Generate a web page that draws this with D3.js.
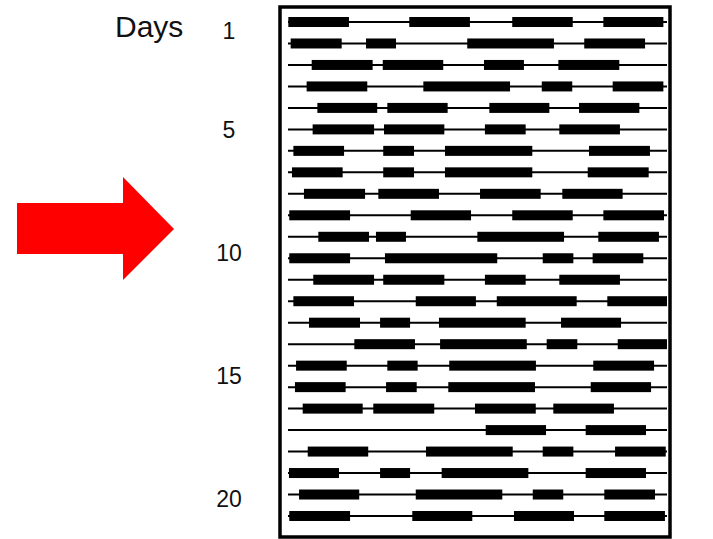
<!DOCTYPE html>
<html>
<head>
<meta charset="utf-8">
<script src="https://cdn.jsdelivr.net/npm/d3@7"></script>
<style>
  body { margin: 0; background: #fff; }
  text { font-family: "Liberation Sans", Arial, sans-serif; }
</style>
</head>
<body>
<div id="chart"></div>
<script>
// activity bouts per row, start/end in hours (0-24)
var bouts = [
  [[0.02, 3.86], [7.68, 11.52], [14.20, 18.03], [19.97, 23.77]],
  [[0.17, 3.40], [4.94, 6.84], [11.35, 16.84], [18.76, 22.61]],
  [[1.50, 5.36], [6.00, 9.83], [12.41, 14.94], [17.12, 20.98]],
  [[1.18, 5.02], [8.57, 14.06], [16.07, 18.00], [20.56, 23.77]],
  [[1.86, 5.65], [6.29, 10.11], [12.75, 16.55], [18.43, 22.25]],
  [[1.56, 5.45], [6.08, 9.90], [12.47, 15.05], [17.18, 21.02]],
  [[0.34, 3.55], [6.03, 7.98], [9.94, 15.47], [19.06, 22.92]],
  [[0.25, 3.46], [6.03, 7.98], [9.94, 15.47], [18.98, 22.84]],
  [[1.01, 4.88], [5.72, 9.56], [12.16, 16.00], [17.37, 21.19]],
  [[0.08, 3.93], [7.77, 11.59], [14.20, 18.03], [19.97, 23.81]],
  [[1.92, 5.13], [5.57, 7.47], [11.99, 17.48], [19.65, 23.49]],
  [[0.08, 3.93], [6.14, 13.25], [16.13, 18.07], [19.29, 22.50]],
  [[1.60, 5.45], [6.03, 9.90], [12.47, 15.05], [17.18, 21.02]],
  [[0.34, 4.18], [8.09, 11.90], [13.22, 18.28], [20.22, 24.00]],
  [[1.33, 4.56], [5.83, 7.73], [9.56, 15.05], [17.29, 21.09]],
  [[4.20, 8.04], [9.63, 15.12], [16.38, 18.32], [20.88, 24.00]],
  [[0.51, 3.72], [6.29, 8.21], [10.21, 15.70], [19.33, 23.18]],
  [[0.44, 3.65], [6.21, 8.15], [10.15, 15.64], [19.17, 22.99]],
  [[0.93, 4.73], [5.40, 9.26], [11.84, 15.69], [16.80, 20.64]],
  [[12.52, 16.34], [18.85, 22.67]],
  [[1.25, 5.08], [8.74, 14.23], [16.13, 18.07], [20.71, 23.92]],
  [[0.06, 3.23], [5.83, 7.73], [9.73, 15.22], [18.85, 22.67]],
  [[0.70, 4.51], [8.09, 13.57], [15.50, 17.43], [20.03, 23.24]],
  [[0.08, 3.93], [7.87, 11.67], [14.31, 18.11], [20.03, 23.87]]
]
var dayTicks = [1, 5, 10, 15, 20]
var axisTitle = "Days"

var svgWidth = 713
var svgHeight = 539

var svg = d3.select("#chart")
            .append("svg")
            .attr("width", svgWidth)
            .attr("height", svgHeight)

var rowIndex = d3.range(bouts.length)

var XScale = d3.scaleLinear()
    .domain([0, 24])
    .range([288, 667])
var YScale = d3.scalePoint()
    .domain(rowIndex)
    .range([22, 516])
// day labels sit on their own scale (not locked to rows)
var DayScale = d3.scaleLinear()
    .domain([1, 20])
    .range([39, 507])

// frame
svg.append("rect")
    .attr("x", 280)
    .attr("y", 7)
    .attr("width", 390)
    .attr("height", 530)
    .attr("fill", "none")
    .attr("stroke", "#000")
    .attr("stroke-width", 3.5)

var rows = svg.selectAll(".row")
    .data(rowIndex)
    .enter()
    .append("g")
    .classed("row", true)
    .attr("transform", d => `translate(0,${YScale(d)})`)

rows.append("line")
    .attr("x1", XScale(0))
    .attr("x2", XScale(24))
    .attr("stroke", "#000")
    .attr("stroke-width", 2)

rows.selectAll(".bout")
    .data(d => bouts[d])
    .enter()
    .append("rect")
    .classed("bout", true)
    .attr("x", d => XScale(d[0]))
    .attr("width", d => XScale(d[1]) - XScale(d[0]))
    .attr("y", -5)
    .attr("height", 10)
    .attr("fill", "#000")

svg.append("text")
    .attr("x", 115)
    .attr("y", 37)
    .attr("font-size", "30px")
    .attr("fill", "#111")
    .text(axisTitle)

svg.selectAll(".day")
    .data(dayTicks)
    .enter()
    .append("text")
    .classed("day", true)
    .attr("x", 229)
    .attr("y", d => DayScale(d))
    .attr("text-anchor", "middle")
    .attr("font-size", "23px")
    .attr("fill", "#111")
    .text(d => d)

// red arrow
svg.append("path")
    .attr("d", "M17,203 L123,203 L123,177 L174,229 L123,280 L123,254 L17,254 Z")
    .attr("fill", "#ff0000")
</script>
</body>
</html>
